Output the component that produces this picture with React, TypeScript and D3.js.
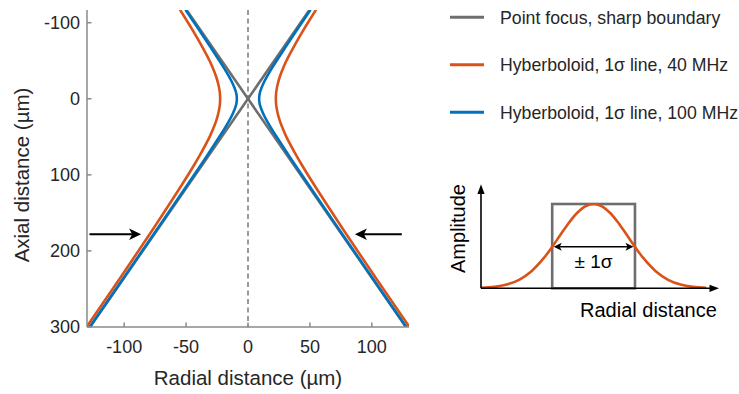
import React from 'react';
import * as d3 from 'd3';

// Axial samples (µm) and radial half-widths (µm) of each focal boundary
const axialZ = [-117, -90, -70, -50, -40, -30, -20, -10, -5, 0, 5, 10, 20, 30, 40, 50, 70, 90, 120, 160, 200, 250, 300];
const radius40MHz = [54.9, 44.6, 37.5, 31.0, 28.3, 25.9, 24.1, 22.9, 22.6, 22.5, 22.6, 22.9, 24.1, 25.9, 28.3, 31.0, 37.5, 44.6, 56.1, 72.1, 88.5, 109.3, 130.4];
const radius100MHz = [50.5, 39.3, 31.1, 23.1, 19.2, 15.6, 12.4, 9.95, 9.25, 9.0, 9.25, 9.95, 12.4, 15.6, 19.2, 23.1, 31.1, 39.3, 51.8, 68.6, 85.5, 106.6, 127.8];

// Point-focus cone: one generator line through the focus (mirrored for the other)
const focusZ = [-117, 0, 300];
const focusX = [-49.7, 0, 127.5];

const xTicks = [-100, -50, 0, 50, 100];
const yTicks = [-100, 0, 100, 200, 300];

const legendLabels = [
  'Point focus, sharp boundary',
  'Hyberboloid, 1σ line, 40 MHz',
  'Hyberboloid, 1σ line, 100 MHz',
];
const seriesColors = ['#6e6e6e', '#D95319', '#0072BD'];

// Pointer arrows at the same depth: [start x, tip x] in µm
const arrowDepth = 178;
const arrowSpans: [number, number][] = [
  [-128, -86.3],
  [124.2, 86.3],
];

// Inset: lateral profile (in units of the box half-width) and amplitude
const profileU = [-2.72, -2.4, -2.1, -1.8, -1.5, -1.2, -1.0, -0.8, -0.6, -0.4, -0.2, 0, 0.2, 0.4, 0.6, 0.8, 1.0, 1.2, 1.5, 1.8, 2.1, 2.4, 2.72];
const profileAmp = [0.006, 0.017, 0.044, 0.101, 0.203, 0.36, 0.492, 0.635, 0.775, 0.893, 0.972, 1, 0.972, 0.893, 0.775, 0.635, 0.492, 0.36, 0.203, 0.101, 0.044, 0.017, 0.006];
const boxHalfWidth = 1;
const boxHeight = 1;

const FONT = '"Liberation Sans", Arial, Helvetica, sans-serif';

export default function App() {
  const W = 739;
  const H = 394;

  const x = d3.scaleLinear().domain([-130, 130]).range([87, 409]);
  const y = d3.scaleLinear().domain([-116.7, 300]).range([10, 327]);
  const [x0, x1] = x.range();
  const [y0, y1] = y.range();

  const branch = d3
    .line<[number, number]>()
    .x((d) => x(d[0]))
    .y((d) => y(d[1]))
    .curve(d3.curveCatmullRom.alpha(0.5));

  const straight = d3
    .line<[number, number]>()
    .x((d) => x(d[0]))
    .y((d) => y(d[1]));

  const branches = (r: number[]) => [
    branch(axialZ.map((z, i) => [r[i], z] as [number, number])) as string,
    branch(axialZ.map((z, i) => [-r[i], z] as [number, number])) as string,
  ];

  const focusLines = [
    straight(focusZ.map((z, i) => [focusX[i], z] as [number, number])) as string,
    straight(focusZ.map((z, i) => [-focusX[i], z] as [number, number])) as string,
  ];

  // Inset scales
  const u = d3.scaleLinear().domain([-2.72, 3.03]).range([481, 719]);
  const a = d3.scaleLinear().domain([0, 1]).range([288.3, 204]);
  const profile = d3
    .line<number>()
    .x((_, i) => u(profileU[i]))
    .y((d) => a(d))
    .curve(d3.curveCatmullRom.alpha(0.5))(profileAmp) as string;

  const arrowY = y(arrowDepth);
  const sigmaY = a(profileAmp[profileU.indexOf(-1.0)]);

  // Notched arrowhead pointing in direction dir (+1 right, -1 left)
  const notchedHead = (tx: number, ty: number, dir: number, len: number, half: number, notch: number) =>
    `M${tx},${ty} L${tx - dir * len},${ty - half} L${tx - dir * (len - notch)},${ty} L${tx - dir * len},${ty + half} Z`;

  return (
    <svg
      width={W}
      height={H}
      viewBox={`0 0 ${W} ${H}`}
      style={{ position: 'absolute', left: 0, top: 0, background: '#fff' }}
      fontFamily={FONT}
    >
      <defs>
        <clipPath id="plot-area">
          <rect x={x0} y={y0} width={x1 - x0} height={y1 - y0} />
        </clipPath>
      </defs>

      {/* focal axis */}
      <line x1={x(0)} x2={x(0)} y1={y0} y2={y1} stroke="#808080" strokeWidth={1.6} strokeDasharray="5,3.5" />

      <g clipPath="url(#plot-area)" fill="none" strokeWidth={2.6} strokeLinejoin="round">
        {focusLines.map((d, i) => (
          <path key={`g${i}`} d={d} stroke={seriesColors[0]} />
        ))}
        {branches(radius40MHz).map((d, i) => (
          <path key={`o${i}`} d={d} stroke={seriesColors[1]} />
        ))}
        {branches(radius100MHz).map((d, i) => (
          <path key={`b${i}`} d={d} stroke={seriesColors[2]} />
        ))}
      </g>

      {/* axes */}
      <g stroke="#8a8a8a" strokeWidth={1.5} fill="none">
        <line x1={x0} x2={x0} y1={y0} y2={y1} />
        <line x1={x0} x2={x1} y1={y1} y2={y1} />
        {xTicks.map((t) => (
          <line key={`xt${t}`} x1={x(t)} x2={x(t)} y1={y1} y2={y1 - 4.5} />
        ))}
        {yTicks.map((t) => (
          <line key={`yt${t}`} x1={x0} x2={x0 + 4.5} y1={y(t)} y2={y(t)} />
        ))}
      </g>
      <g fill="#262626" fontSize={18}>
        {xTicks.map((t) => (
          <text key={`xl${t}`} x={x(t)} y={353} textAnchor="middle">
            {t}
          </text>
        ))}
        {yTicks.map((t) => (
          <text key={`yl${t}`} x={80} y={y(t)} dy="0.35em" textAnchor="end">
            {t}
          </text>
        ))}
      </g>
      <text x={248} y={384.5} textAnchor="middle" fontSize={20.5} fill="#262626">
        Radial distance (µm)
      </text>
      <text transform="translate(29,175) rotate(-90)" textAnchor="middle" fontSize={20.5} fill="#262626">
        Axial distance (µm)
      </text>

      {/* pointer arrows */}
      {arrowSpans.map(([s, t], i) => {
        const dir = Math.sign(t - s);
        const tx = x(t);
        return (
          <g key={`ar${i}`}>
            <line x1={x(s)} x2={tx - dir * 8} y1={arrowY} y2={arrowY} stroke="#000" strokeWidth={2} />
            <path d={notchedHead(tx, arrowY, dir, 12, 5.8, 3)} fill="#000" />
          </g>
        );
      })}

      {/* legend */}
      <g>
        {legendLabels.map((label, i) => {
          const ly = 17.3 + i * 47.5;
          return (
            <g key={label}>
              <line x1={450} x2={484} y1={ly} y2={ly} stroke={seriesColors[i]} strokeWidth={3} />
              <text x={500} y={ly} dy="0.36em" fontSize={17.7} fill="#262626">
                {label}
              </text>
            </g>
          );
        })}
      </g>

      {/* inset: lateral profile */}
      <g>
        <rect
          x={u(-boxHalfWidth)}
          y={a(boxHeight)}
          width={u(boxHalfWidth) - u(-boxHalfWidth)}
          height={a(0) - a(boxHeight)}
          fill="none"
          stroke={seriesColors[0]}
          strokeWidth={2.6}
        />
        <path d={profile} fill="none" stroke={seriesColors[1]} strokeWidth={2.6} />
        {/* axes with arrowheads */}
        <line x1={u.range()[0]} x2={u.range()[0]} y1={a(0)} y2={192} stroke="#000" strokeWidth={1.6} />
        <path d={`M${u.range()[0]},184.3 L${u.range()[0] - 3.6},194 L${u.range()[0] + 3.6},194 Z`} fill="#000" />
        <line x1={u.range()[0]} x2={711} y1={a(0)} y2={a(0)} stroke="#000" strokeWidth={1.6} />
        <path d={`M719,${a(0)} L709.5,${a(0) - 3.6} L709.5,${a(0) + 3.6} Z`} fill="#000" />
        {/* ±1σ marker */}
        <line x1={u(-boxHalfWidth) + 5} x2={u(boxHalfWidth) - 5} y1={sigmaY} y2={sigmaY} stroke="#000" strokeWidth={1.6} />
        <path d={notchedHead(u(-boxHalfWidth) + 1.5, sigmaY, -1, 8, 4, 2)} fill="#000" />
        <path d={notchedHead(u(boxHalfWidth) - 1.5, sigmaY, 1, 8, 4, 2)} fill="#000" />
        <text x={u(0)} y={267.5} textAnchor="middle" fontSize={19} fill="#000">
          ± 1σ
        </text>
        <text x={580} y={316.7} fontSize={20} fill="#000">
          Radial distance
        </text>
        <text transform="translate(465,228.5) rotate(-90)" textAnchor="middle" fontSize={20} fill="#000">
          Amplitude
        </text>
      </g>
    </svg>
  );
}
